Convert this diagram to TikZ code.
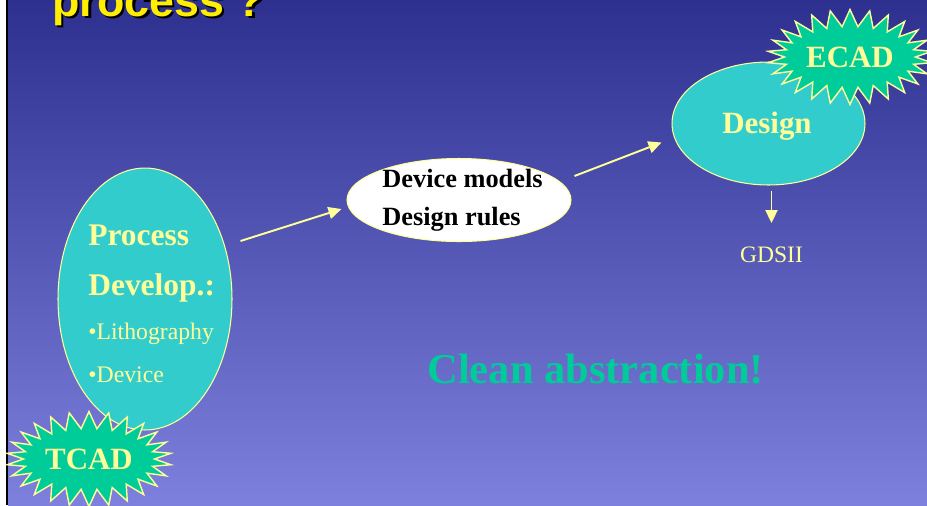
\documentclass[tikz,border=0pt]{standalone}
\usepackage{fontspec}
\setmainfont{Liberation Serif}
\newfontfamily\headfont{Liberation Sans}
\usetikzlibrary{shapes.geometric,shapes.symbols,arrows.meta}

\definecolor{bgtop}{HTML}{2E3090}
\definecolor{bgbot}{HTML}{7D80DC}
\definecolor{pale}{HTML}{FFFF99}
\definecolor{blobfill}{HTML}{33CCCC}
\definecolor{burstfill}{HTML}{00CC99}
\definecolor{headyellow}{HTML}{FFEE00}

\begin{document}
\begin{tikzpicture}[x=0.02cm,y=-0.02cm,>={Triangle[length=0.26cm,width=0.24cm]},
  blob/.style={ellipse,draw=pale,line width=0.6pt,inner sep=0pt},
  burst/.style={starburst,starburst points=26,starburst point height=0.34cm,
    random starburst=0,draw=pale,fill=burstfill,line width=0.8pt,inner sep=0pt,
    text=pale,font=\fontsize{17.6}{20}\selectfont\bfseries},
  flow/.style={->,draw=pale,fill=pale,line width=1.1pt},
  big/.style={font=\fontsize{17.9}{20}\selectfont\bfseries,text=pale,anchor=base west,inner sep=0pt},
  small/.style={font=\fontsize{13.5}{16}\selectfont,text=pale,anchor=base west,inner sep=0pt}]

\useasboundingbox (0,0) rectangle (927,505);
\clip (0,0) rectangle (927,505);
\shade[top color=bgtop,bottom color=bgbot] (8,0) rectangle (927,505);
\draw[line width=1.1pt] (7,0) -- (7,505);

% title, cut off at the top
\node[anchor=base west,inner sep=0pt,font=\headfont\fontsize{25.5}{28}\selectfont\bfseries]
  (title-shadow) at (54.5,18.5) {process ?};
\node[anchor=base west,inner sep=0pt,text=headyellow,font=\headfont\fontsize{25.5}{28}\selectfont\bfseries]
  (title) at (52,16) {process ?};

% process side
\node[blob,fill=blobfill,minimum width=3.48cm,minimum height=5.24cm] (proc) at (145,299) {};
\foreach \t/\y [count=\i] in {Process/245,Develop.:/295}
  \node[big] (proc-\i) at (88,\y) {\t};
\foreach \t/\y [count=\i] in {Lithography/339,Device/382}
  \node[small] (item-\i) at (88,\y) {•\t};
\node[burst,minimum width=3.3cm,minimum height=1.9cm] (tcad) at (89,459) {TCAD};

% models in the middle
\node[blob,fill=white,minimum width=4.48cm,minimum height=1.66cm] (dev) at (459,200) {};
\foreach \t/\y [count=\i] in {Device models/187,Design rules/225}
  \node[anchor=base west,inner sep=0pt,font=\fontsize{15}{18}\selectfont\bfseries] (dev-\i) at (382,\y) {\t};

% design side
\node[blob,fill=blobfill,minimum width=3.86cm,minimum height=2.46cm] (design) at (768.5,123.5) {};
\node[anchor=base,inner sep=0pt,text=pale,font=\fontsize{17.6}{20}\selectfont\bfseries] (design-t) at (767,133) {Design};
\node[burst,minimum width=3.3cm,minimum height=1.9cm] (ecad) at (850,57) {ECAD};
\node[anchor=base,inner sep=0pt,text=pale,font=\fontsize{13.4}{16}\selectfont] (gds) at (771.5,262) {GDSII};

\draw[flow] ([shift={(8,-58)}]proc.east) -- ([shift={(-5,9)}]dev.west);
\draw[flow] ([shift={(3,-24)}]dev.east) -- ([shift={(-10,19)}]design.west);
\draw[flow] ([shift={(3,5)}]design.south) -- ([shift={(0,-23)}]gds.north);

\node[anchor=base west,inner sep=0pt,text=burstfill,font=\fontsize{24.2}{28}\selectfont\bfseries]
  (clean) at (427,383) {Clean abstraction!};

\end{tikzpicture}
\end{document}
